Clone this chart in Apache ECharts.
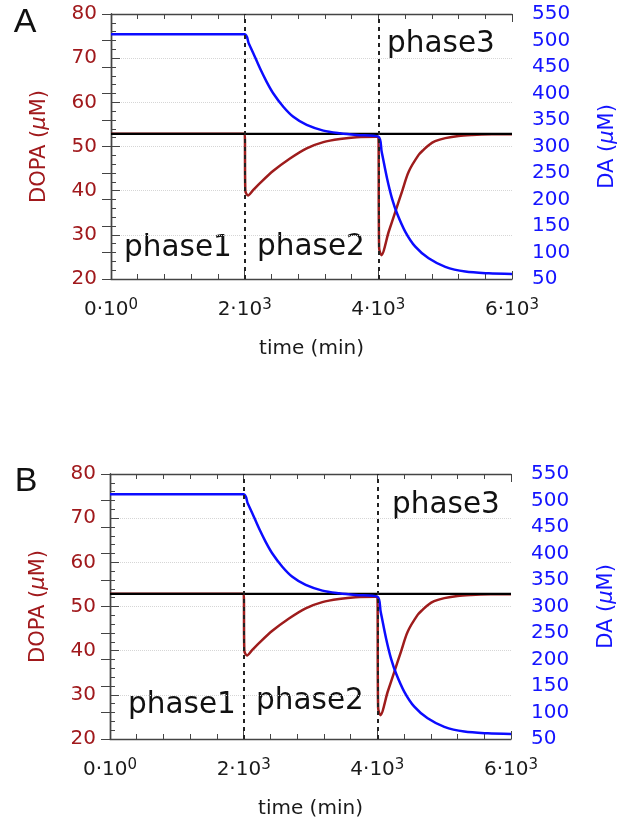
<!DOCTYPE html>
<html>
<head>
<meta charset="utf-8">
<script src="https://cdn.jsdelivr.net/npm/echarts@6/dist/echarts.min.js"></script>
<style>
html,body{margin:0;padding:0;background:#fff;}
#chart{width:618px;height:826px;}
</style>
</head>
<body>
<div id="chart"></div>
<script>
// ---- data (same simulation in panels A and B) ----
const xTicks = [0, 2000, 4000, 6000];
const dopaTicks = [20, 30, 40, 50, 60, 70, 80];
const daTicks = [50, 100, 150, 200, 250, 300, 350, 400, 450, 500, 550];

const dopaTime = [0, 2000, 2010, 2050, 2120, 2229, 2429, 2678, 2928, 3177, 3426, 3676, 3975, 4000, 4012, 4045, 4155, 4254, 4354, 4454, 4603, 4680, 4753, 4850, 5002, 5200, 5401, 5700, 6000];
const dopaVal  = [52.9, 52.9, 40.0, 38.9, 40.0, 41.7, 44.5, 47.3, 49.6, 51.0, 51.7, 52.1, 52.2, 52.2, 27.0, 25.4, 30.7, 35.2, 39.8, 44.3, 48.1, 49.3, 50.3, 51.2, 51.9, 52.4, 52.6, 52.75, 52.8];

const daTime = [0, 2000, 2060, 2129, 2229, 2329, 2429, 2578, 2728, 2928, 3177, 3426, 3676, 4000, 4050, 4130, 4204, 4279, 4404, 4553, 4753, 5002, 5301, 5651, 6000];
const daVal  = [512, 512, 495, 476, 447.5, 422, 400, 375, 356, 340.6, 330, 325, 321.7, 318.5, 290, 240, 202, 174, 139, 111, 89, 73, 64, 60.7, 59.5];

const steadyDopa = 52.85;
const phaseBounds = [2000, 4000];
const phaseNames = ['phase1', 'phase2', 'phase3'];
const panelLetters = ['A', 'B'];

// ---- styling ----
const RED = '#a0191c';
const RED_LINE = '#9e1c1c';
const BLUE = '#1414ff';
const BLUE_LINE = '#0c0cff';
const FRAME = '#444';
const FONT = 'DejaVu Sans';

const zip = (a, b) => a.map((v, i) => [v, b[i]]);

function xLabel(v) {
  if (v === 0) return '{b|0·10}{s|0}';
  return '{b|' + (v / 1000) + '·10}{s|3}';
}

const grids = [
  { left: 111, top: 14, width: 401, height: 265, outerBoundsMode: 'none', containLabel: false },
  { left: 110, top: 474, width: 401, height: 265, outerBoundsMode: 'none', containLabel: false }
];

const xAxes = [], yAxes = [], series = [];
grids.forEach((g, gi) => {
  xAxes.push({
    gridIndex: gi, type: 'value', position: 'bottom',
    min: xTicks[0], max: xTicks[xTicks.length - 1], interval: 2000,
    axisLine: { show: true, lineStyle: { color: FRAME, width: 1.4 } },
    axisTick: { show: true, inside: true, length: 8, lineStyle: { color: FRAME } },
    minorTick: { show: true, splitNumber: 5, length: 5, lineStyle: { color: FRAME } },
    splitLine: { show: false },
    axisLabel: {
      margin: 19, formatter: xLabel,
      rich: {
        b: { fontFamily: FONT, fontSize: 20, color: '#1a1a1a', lineHeight: 24 },
        s: { fontFamily: FONT, fontSize: 15, color: '#1a1a1a', verticalAlign: 'top', lineHeight: 24, padding: [0, 0, 10, 0] }
      }
    },
    name: 'time (min)', nameLocation: 'middle', nameGap: 60,
    nameTextStyle: { fontFamily: FONT, fontSize: 20, color: '#1a1a1a' }
  });
  xAxes.push({
    gridIndex: gi, type: 'value', position: 'top',
    min: xTicks[0], max: xTicks[xTicks.length - 1], interval: 2000,
    axisLine: { show: true, lineStyle: { color: FRAME, width: 1.4 } },
    axisTick: { show: true, inside: true, length: 8, lineStyle: { color: FRAME } },
    minorTick: { show: true, splitNumber: 5, length: 5, lineStyle: { color: FRAME } },
    splitLine: { show: false },
    axisLabel: { show: false }
  });
  yAxes.push({
    gridIndex: gi, type: 'value', position: 'left',
    min: dopaTicks[0], max: dopaTicks[dopaTicks.length - 1], interval: 10,
    axisLine: { show: true, lineStyle: { color: FRAME, width: 1.4 } },
    axisTick: { show: true, inside: true, length: 9, lineStyle: { color: FRAME } },
    minorTick: { show: true, splitNumber: 5, length: 5, lineStyle: { color: FRAME } },
    splitLine: { show: true, lineStyle: { color: '#d6d6d6', type: 'dotted', width: 1 } },
    axisLabel: { margin: 14, fontFamily: FONT, fontSize: 20, color: RED },
    name: 'DOPA ({i|μ}M)', nameLocation: 'middle', nameRotate: 90, nameGap: 61,
    nameTextStyle: { fontFamily: FONT, fontSize: 21, color: RED,
      rich: { i: { fontFamily: FONT, fontSize: 21, color: RED, fontStyle: 'italic' } } }
  });
  yAxes.push({
    gridIndex: gi, type: 'value', position: 'right',
    min: daTicks[0], max: daTicks[daTicks.length - 1], interval: 50,
    axisLine: { show: true, lineStyle: { color: FRAME, width: 1.4 } },
    axisTick: { show: true, inside: true, length: 9, lineStyle: { color: FRAME } },
    splitLine: { show: false },
    axisLabel: { margin: 20, fontFamily: FONT, fontSize: 20, color: BLUE },
    name: 'DA ({i|μ}M)', nameLocation: 'middle', nameRotate: 90, nameGap: 85,
    nameTextStyle: { fontFamily: FONT, fontSize: 21, color: BLUE,
      rich: { i: { fontFamily: FONT, fontSize: 21, color: BLUE, fontStyle: 'italic' } } }
  });

  const xi = gi * 2, yl = gi * 2, yr = gi * 2 + 1;
  series.push({
    type: 'line', xAxisIndex: xi, yAxisIndex: yl, data: zip(dopaTime, dopaVal),
    showSymbol: false, smooth: 0.3,
    lineStyle: { color: RED_LINE, width: 2.5 }, itemStyle: { color: RED_LINE }, z: 2
  });
  series.push({
    type: 'line', xAxisIndex: xi, yAxisIndex: yl,
    data: [[xTicks[0], steadyDopa], [xTicks[xTicks.length - 1], steadyDopa]],
    showSymbol: false, lineStyle: { color: '#000', width: 2.2 }, itemStyle: { color: '#000' }, z: 3,
    markLine: {
      silent: true, symbol: 'none', label: { show: false },
      lineStyle: { color: '#222', type: [4, 4], width: 2 },
      data: phaseBounds.map(v => ({ xAxis: v }))
    }
  });
  series.push({
    type: 'line', xAxisIndex: xi, yAxisIndex: yr, data: zip(daTime, daVal),
    showSymbol: false, smooth: 0.3,
    lineStyle: { color: BLUE_LINE, width: 2.5 }, itemStyle: { color: BLUE_LINE }, z: 4
  });
});

const textStyle = (t, size, fam) => ({ text: t, fontSize: size, fontFamily: fam, fill: '#111', align: 'center', verticalAlign: 'middle' });
const graphic = [
  { type: 'text', x: 25, y: 23, style: textStyle(panelLetters[0], 34, 'Liberation Sans') },
  { type: 'text', x: 26, y: 482, style: textStyle(panelLetters[1], 34, 'Liberation Sans') },
  { type: 'text', x: 178, y: 248, style: textStyle(phaseNames[0], 29.5, FONT) },
  { type: 'text', x: 311, y: 247, style: textStyle(phaseNames[1], 29.5, FONT) },
  { type: 'text', x: 441, y: 44, style: textStyle(phaseNames[2], 29.5, FONT) },
  { type: 'text', x: 182, y: 705, style: textStyle(phaseNames[0], 29.5, FONT) },
  { type: 'text', x: 310, y: 701, style: textStyle(phaseNames[1], 29.5, FONT) },
  { type: 'text', x: 446, y: 505, style: textStyle(phaseNames[2], 29.5, FONT) }
];

const chart = echarts.init(document.getElementById('chart'), null, { renderer: 'canvas' });
chart.setOption({
  animation: false,
  backgroundColor: '#fff',
  grid: grids,
  xAxis: xAxes,
  yAxis: yAxes,
  series: series,
  graphic: graphic
});
</script>
</body>
</html>
